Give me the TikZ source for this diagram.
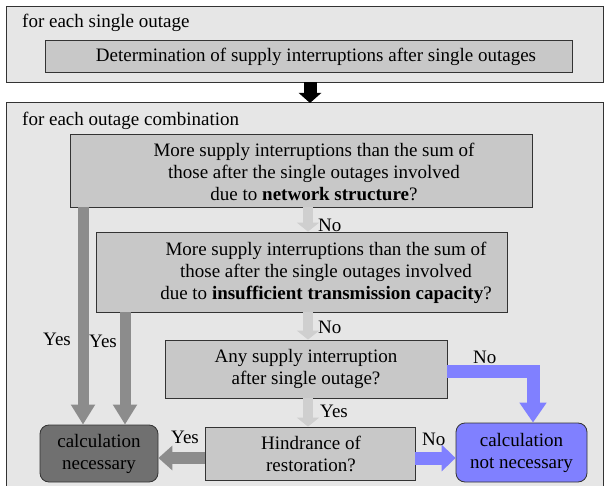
\documentclass[tikz,border=0pt]{standalone}
\usepackage{fontspec}
\setmainfont{Liberation Serif}
\newfontfamily\tnr{Liberation Serif}
\usetikzlibrary{arrows.meta}
\definecolor{outerfill}{HTML}{E6E6E6}
\definecolor{boxfill}{HTML}{C8C8C8}
\definecolor{darkbox}{HTML}{707070}
\definecolor{grayarrow}{HTML}{8C8C8C}
\definecolor{lightarrow}{HTML}{CFCFCF}
\definecolor{bluec}{HTML}{8080FF}
\begin{document}
\begin{tikzpicture}[x=1pt,y=-1pt,
  outer/.style={draw=black!80,fill=outerfill,line width=0.8pt,inner sep=0pt},
  qbox/.style={draw=black!80,fill=boxfill,line width=0.8pt,inner sep=0pt},
  rbox/.style={draw=black!80,line width=0.8pt,rounded corners=9pt,inner sep=0pt,align=center,font=\tnr\fontsize{19}{22}\selectfont},
  txt/.style={align=center,inner sep=0pt,font=\tnr\fontsize{19}{22}\selectfont},
  lbl/.style={inner sep=0pt,font=\tnr\fontsize{19}{22}\selectfont},
  blockarrow/.style={line width=11pt,-{Triangle[width=23pt,length=20pt]}},
]
\useasboundingbox (0,0) rectangle (605,486);
% outer frames
\node[outer,minimum width=597pt,minimum height=76pt] (top) at (304.5,44) {};
\node[lbl,anchor=base west] (toplbl) at (22,28) {for each single outage};
\node[qbox,minimum width=527pt,minimum height=32pt] (det) at (308.5,56) {};
\node[lbl] (dett) at (316,57) {Determination of supply interruptions after single outages};
\node[outer,minimum width=597pt,minimum height=392pt,anchor=north] (bot) at (304.5,102) {};
\node[lbl,anchor=base west] (botlbl) at (22,126) {for each outage combination};
\draw[black,line width=13pt,-{Triangle[width=22pt,length=10pt]}] (310,82.5) coordinate (a0) -- (310,103) coordinate (a1);
% decision boxes
\node[qbox,minimum width=462pt,minimum height=73pt] (q1) at (301,170.5) {};
\node[txt] (q1t) at (314,172) {More supply interruptions than the sum of\\those after the single outages involved\\due to \textbf{network structure}?};
\node[qbox,minimum width=411pt,minimum height=80pt] (q2) at (301.5,272) {};
\node[txt] (q2t) at (326,273) {More supply interruptions than the sum of\\those after the single outages involved\\due to \textbf{insufficient transmission capacity}?};
\node[qbox,minimum width=282pt,minimum height=58pt] (q3) at (306,369) {};
\node[txt] (q3t) at (306,369) {Any supply interruption\\after single outage?};
\node[qbox,minimum width=210pt,minimum height=53pt] (q4) at (310,453.5) {};
\node[txt] (q4t) at (311,454) {Hindrance of\\restoration?};
\node[rbox,fill=darkbox,minimum width=118pt,minimum height=57pt] (cn) at (99,453.5) {calculation\\necessary};
\node[rbox,fill=bluec,minimum width=131pt,minimum height=59pt] (cnn) at (521.5,452.5) {calculation\\not necessary};
% light arrows
\draw[lightarrow,line width=10pt,-{Triangle[width=22pt,length=9pt]}] (q1.south -| 308,0) -- (q2.north -| 308,0);
\draw[lightarrow,line width=10pt,-{Triangle[width=22pt,length=9pt]}] (q2.south -| 308,0) -- (q3.north -| 308,0);
\draw[lightarrow,line width=10pt,-{Triangle[width=22pt,length=9pt]}] (q3.south -| 308,0) -- (q4.north -| 308,0);
\node[lbl,anchor=base west] (no1) at (318,232) {No};
\node[lbl,anchor=base west] (no2) at (318,334) {No};
\node[lbl,anchor=base west] (yes3) at (320,417) {Yes};
% gray arrows
\draw[grayarrow,blockarrow] (q1.south -| 83,0) -- (cn.north -| 83,0);
\draw[grayarrow,blockarrow] (q2.south -| 125,0) -- (cn.north -| 125,0);
\draw[grayarrow,line width=12pt,-{Triangle[width=24pt,length=14pt]}] (q4.west |- 0,458) -- (cn.east |- 0,458);
\node[lbl,anchor=base west] (yes1) at (43,345) {Yes};
\node[lbl,anchor=base west] (yes2) at (89,348) {Yes};
\node[lbl,anchor=base west] (yes4) at (171,443) {Yes};
% blue arrows
\draw[bluec,line width=13pt,-{Triangle[width=26pt,length=14pt]}] (q4.east |- 0,458) -- (cnn.west |- 0,458);
\draw[bluec,line width=13pt,-{Triangle[width=26pt,length=20pt]}] (q3.east |- 0,371) -- (533,371) -- (cnn.north -| 533,0);
\node[lbl,anchor=base west] (no4) at (422,445) {No};
\node[lbl,anchor=base west] (no3) at (473,363) {No};
\end{tikzpicture}
\end{document}
